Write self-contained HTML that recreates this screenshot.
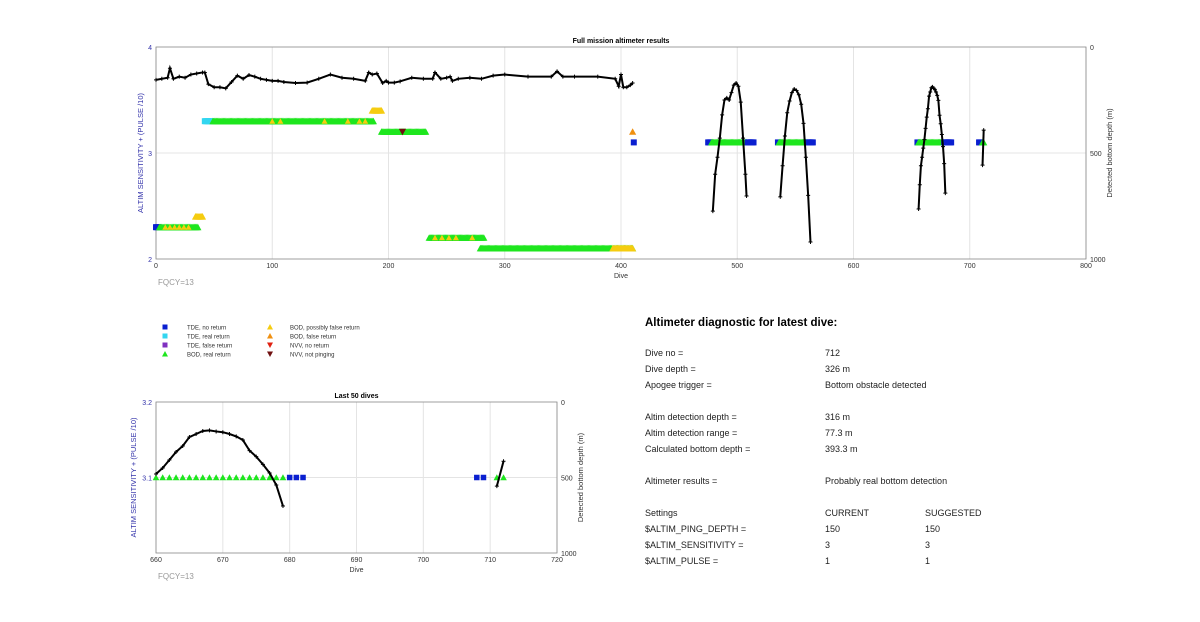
<!DOCTYPE html>
<html><head><meta charset="utf-8"><style>
body{margin:0;background:#fff;font-family:"Liberation Sans",Arial,sans-serif;}
svg{display:block}
</style></head><body>
<svg id="c" width="1200" height="622" viewBox="0 0 1200 622" xmlns="http://www.w3.org/2000/svg" font-family="Liberation Sans, Arial, sans-serif">
<rect width="1200" height="622" fill="#fff"/>
<g id="top"></g>
<g id="bot"></g>
<g id="legend"></g>
<g font-size="9" fill="#222">
<text x="645" y="326" font-size="11.5" font-weight="bold" fill="#000">Altimeter diagnostic for latest dive:</text>
<text x="645" y="356">Dive no =</text><text x="825" y="356">712</text>
<text x="645" y="372">Dive depth =</text><text x="825" y="372">326 m</text>
<text x="645" y="388">Apogee trigger =</text><text x="825" y="388">Bottom obstacle detected</text>
<text x="645" y="420">Altim detection depth =</text><text x="825" y="420">316 m</text>
<text x="645" y="436">Altim detection range =</text><text x="825" y="436">77.3 m</text>
<text x="645" y="452">Calculated bottom depth =</text><text x="825" y="452">393.3 m</text>
<text x="645" y="484">Altimeter results =</text><text x="825" y="484">Probably real bottom detection</text>
<text x="645" y="516">Settings</text><text x="825" y="516">CURRENT</text><text x="925" y="516">SUGGESTED</text>
<text x="645" y="532">$ALTIM_PING_DEPTH =</text><text x="825" y="532">150</text><text x="925" y="532">150</text>
<text x="645" y="548">$ALTIM_SENSITIVITY =</text><text x="825" y="548">3</text><text x="925" y="548">3</text>
<text x="645" y="564">$ALTIM_PULSE =</text><text x="825" y="564">1</text><text x="925" y="564">1</text>
</g>
</svg>
<script>
// ---- data ----
const depthDivesA = [0,5,10,12,15,20,25,30,35,40,42,45,50,55,60,65,70,75,80,85,90,95,100,105,110,120,130,140,150,160,170,180,183,186,190,195,198,200,205,210,220,230,238,240,245,250,253,255,260,270,280,290,300,320,340,345,350,360,380,395,398,400,402,405,408,410];
const depthValsA = [155,150,145,100,150,140,145,130,125,120,120,175,190,190,195,165,135,150,132,140,150,155,160,160,165,170,168,150,130,145,150,160,120,130,125,170,160,168,168,162,145,150,150,120,150,145,140,160,150,145,150,135,130,140,140,115,140,140,140,150,185,130,190,190,180,170];
const depthDivesB = [479,481,483,485,487,489,491,493,495,497,499,501,503,505,507,508];
const depthValsB = [774,600,520,430,320,250,240,250,215,180,170,185,260,430,600,703];
const depthDivesC = [537,539,541,543,545,547,549,551,553,555,557,559,561,563];
const depthValsC = [707,560,420,310,255,215,198,205,225,270,360,520,700,920];
const depthDivesD = [656,657,658,659,660,661,662,663,664,665,666,667,668,669,670,671,672,673,674,675,676,677,678,679];
const depthValsD = [764,650,560,520,477,437,384,331,291,232,212,192,188,195,200,212,228,252,322,362,413,470,550,689];
const depthDivesE = [711,712];
const depthValsE = [557,392];
// marker runs: start dive, end dive, sensitivity value, type
const runStart = [0,3,34,42,49,186,194,212,235,279,393,410,411,475,478,509,535,536,561,655,656,678,708,711];
const runEnd   = [2,36,40,48,187,194,232,212,282,410,410,410,411,477,508,514,535,560,565,655,677,684,709,712];
const runValue = [2.3,2.3,2.4,3.3,3.3,3.4,3.2,3.2,2.2,2.1,2.1,3.2,3.1,3.1,3.1,3.1,3.1,3.1,3.1,3.1,3.1,3.1,3.1,3.1];
const runType  = ['tdeNo','bodReal','bodPoss','tdeReal','bodReal','bodPoss','bodReal','nvvNot','bodReal','bodReal','bodPoss','bodFalse','tdeNo','tdeNo','bodReal','tdeNo','tdeNo','bodReal','tdeNo','tdeNo','bodReal','tdeNo','tdeNo','bodReal'];
const stripeDives = [8,12,16,20,24,28,100,107,145,165,175,180,240,246,252,258,272,398,403,406];
const stripeVals  = [2.3,2.3,2.3,2.3,2.3,2.3,3.3,3.3,3.3,3.3,3.3,3.3,2.2,2.2,2.2,2.2,2.2,2.1,2.1,2.1];
const botSymDives = [660,661,662,663,664,665,666,667,668,669,670,671,672,673,674,675,676,677,678,679,680,681,682,708,709,711,712];
const botSymType  = ['bodReal','bodReal','bodReal','bodReal','bodReal','bodReal','bodReal','bodReal','bodReal','bodReal','bodReal','bodReal','bodReal','bodReal','bodReal','bodReal','bodReal','bodReal','bodReal','bodReal','tdeNo','tdeNo','tdeNo','tdeNo','tdeNo','bodReal','bodReal'];
const topXTicks = [0,100,200,300,400,500,600,700,800];
const topYTicks = [2,3,4];
const depthTicks = [0,500,1000];
const botXTicks = [660,670,680,690,700,710,720];
const botYTicks = [3.1,3.2];
const legendLabels = ['TDE, no return','TDE, real return','TDE, false return','BOD, real return','BOD, possibly false return','BOD, false return','NVV, no return','NVV, not pinging'];
const legendTypes = ['tdeNo','tdeReal','tdeFalse','bodReal','bodPoss','bodFalse','nvvNo','nvvNot'];

const NS='http://www.w3.org/2000/svg';
const COL={tdeNo:'#0a1fd0',tdeReal:'#33d6f0',tdeFalse:'#8030c0',bodReal:'#1ee61e',bodPoss:'#f5cc10',bodFalse:'#f09010',nvvNo:'#e02010',nvvNot:'#701010'};
function mk(parent,tag,attrs,txt){const e=document.createElementNS(NS,tag);for(const k in attrs)e.setAttribute(k,attrs[k]);if(txt!==undefined)e.textContent=txt;parent.appendChild(e);return e;}
function sym(g,type,x,y,s){
  let e;
  if(type.startsWith('tde')) e=mk(g,'rect',{x:x-s/2,y:y-s/2,width:s,height:s,fill:COL[type]});
  else if(type.startsWith('bod')) e=mk(g,'polygon',{points:`${x-s*0.6},${y+s*0.5} ${x+s*0.6},${y+s*0.5} ${x},${y-s*0.6}`,fill:COL[type]});
  else e=mk(g,'polygon',{points:`${x-s*0.6},${y-s*0.5} ${x+s*0.6},${y-s*0.5} ${x},${y+s*0.6}`,fill:COL[type]});
  
  
  return e;
}
function axes(g,L,T,R,B,xs,ysL,xt,yt,dt,title,ytickFmt,ytOff){
  mk(g,'rect',{x:L,y:T,width:R-L,height:B-T,fill:'#fff'});
  xt.forEach(v=>{const x=xs(v);
    const l=mk(g,'line',{x1:x,y1:T,x2:x,y2:B,stroke:'#e4e4e4','stroke-width':1});
    
    const t=mk(g,'text',{x:x,y:B+9,'font-size':7,'text-anchor':'middle',fill:'#333'},v);
    
  });
  yt.forEach(v=>{const y=ysL(v);
    if(y>T+1&&y<B-1){const l=mk(g,'line',{x1:L,y1:y,x2:R,y2:y,stroke:'#e4e4e4','stroke-width':1});}
    const t=mk(g,'text',{x:L-4,y:y+3,'font-size':7,'text-anchor':'end',fill:'#3333aa'},ytickFmt(v));
    
  });
  dt.forEach(v=>{const y=T+v/1000*(B-T);
    const t=mk(g,'text',{x:R+4,y:y+3,'font-size':7,fill:'#333'},v);
    
  });
  const f=mk(g,'rect',{x:L,y:T,width:R-L,height:B-T,fill:'none',stroke:'#888','stroke-width':0.8});
  
  const tt=mk(g,'text',{x:(L+R)/2,y:T-4,'font-size':7,'font-weight':'bold','text-anchor':'middle'},title);
  
  const xl=mk(g,'text',{x:(L+R)/2,y:B+19,'font-size':7,'text-anchor':'middle',fill:'#333'},'Dive');
  
  const yl=mk(g,'text',{x:0,y:0,'font-size':7.5,'text-anchor':'middle',fill:'#3333aa',transform:`translate(${L-ytOff},${(T+B)/2}) rotate(-90)`},'ALTIM SENSITIVITY + (PULSE /10)');
  
  const yr=mk(g,'text',{x:0,y:0,'font-size':7.5,'text-anchor':'middle',fill:'#333',transform:`translate(${R+26},${(T+B)/2}) rotate(-90)`},'Detected bottom depth (m)');
  
  const fq=mk(g,'text',{x:L+2,y:B+26,'font-size':8,fill:'#999'},'FQCY=13');
  
}
function depthLine(g,xs,ds,dives,vals,xmin,xmax){
  const pts=[];dives.forEach((d,i)=>{if(d>=xmin&&d<=xmax)pts.push([xs(d),ds(vals[i])]);});
  if(pts.length<2)return;
  const p=mk(g,'polyline',{points:pts.map(p=>p.join(',')).join(' '),fill:'none',stroke:'#000','stroke-width':2});
  
  pts.forEach(q=>{const c=mk(g,'path',{d:`M${q[0]-2},${q[1]}h4M${q[0]},${q[1]-2}v4`,stroke:'#000','stroke-width':1});
    });
}
// ---- top chart ----
(function(){
  const g=document.getElementById('top');
  const L=156,R=1086,T=47,B=259;
  const xs=v=>L+(v-0)/800*(R-L), ys=v=>B-(v-2)/2*(B-T), ds=v=>T+v/1000*(B-T);
  axes(g,L,T,R,B,xs,ys,topXTicks,topYTicks,depthTicks,'Full mission altimeter results',v=>String(v),13);
  for(let i=0;i<runStart.length;i++){for(let d=runStart[i];d<=runEnd[i];d++)sym(g,runType[i],xs(d),ys(runValue[i]),6);}
  stripeDives.forEach((d,i)=>sym(g,'bodPoss',xs(d),ys(stripeVals[i]),5));
  [[depthDivesA,depthValsA],[depthDivesB,depthValsB],[depthDivesC,depthValsC],[depthDivesD,depthValsD],[depthDivesE,depthValsE]].forEach(a=>depthLine(g,xs,ds,a[0],a[1],0,800));
})();
// ---- bottom chart ----
(function(){
  const g=document.getElementById('bot');
  const L=156,R=557,T=402,B=553;
  const xs=v=>L+(v-660)/60*(R-L), ys=v=>B-(v-3.0)/0.2*(B-T), ds=v=>T+v/1000*(B-T);
  axes(g,L,T,R,B,xs,ys,botXTicks,botYTicks,depthTicks,'Last 50 dives',v=>v.toFixed(1),20);
  botSymDives.forEach((d,i)=>sym(g,botSymType[i],xs(d),ys(3.1),5.5));
  depthLine(g,xs,ds,depthDivesD,depthValsD,660,720);
  depthLine(g,xs,ds,depthDivesE,depthValsE,660,720);
})();
// ---- legend ----
(function(){
  const g=document.getElementById('legend');
  legendLabels.forEach((lab,i)=>{
    const col=Math.floor(i/4),row=i%4;
    const x=col?270:165, y=327+row*9;
    sym(g,legendTypes[i],x,y,5);
    const t=mk(g,'text',{x:col?290:187,y:y+2.5,'font-size':6,fill:'#333'},lab);
    
    
  });
})();
</script>
</body></html>
